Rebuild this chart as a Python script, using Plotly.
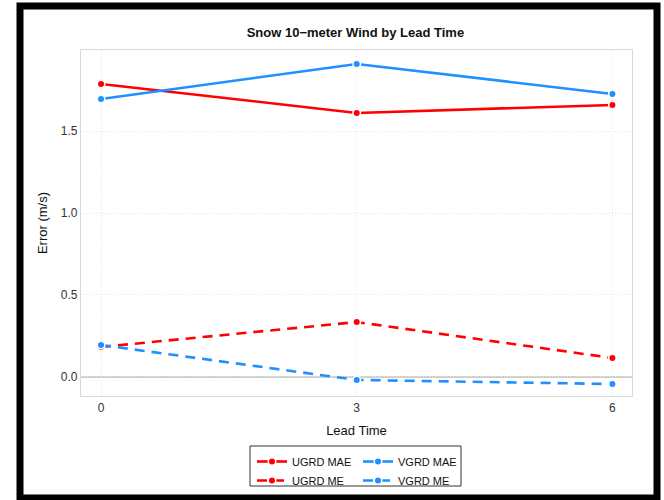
import plotly.graph_objects as go

lead_times = [0, 3, 6]
ugrd_mae = [1.787, 1.610, 1.659]
vgrd_mae = [1.695, 1.909, 1.726]
ugrd_me = [0.183, 0.335, 0.116]
vgrd_me = [0.195, -0.018, -0.043]

x_ticks = [0, 3, 6]
y_ticks = [0.0, 0.5, 1.0, 1.5]
y_tick_labels = ["0.0", "0.5", "1.0", "1.5"]

RED = "#FF0000"
BLUE = "#1E90FF"
DASH = "10px,7px"

fig = go.Figure()

def add(name, y, color, dash, legend):
    fig.add_trace(go.Scatter(
        x=lead_times, y=y, name=name, mode="lines+markers", legend=legend,
        line=dict(color=color, width=2.6, dash=dash),
        marker=dict(color=color, size=7.5, line=dict(color="white", width=1.5)),
    ))

add("UGRD MAE", ugrd_mae, RED, "solid", "legend")
add("UGRD ME", ugrd_me, RED, DASH, "legend")
add("VGRD MAE", vgrd_mae, BLUE, "solid", "legend2")
add("VGRD ME", vgrd_me, BLUE, DASH, "legend2")

fig.add_shape(type="line", xref="paper", yref="y", x0=0, x1=1, y0=0, y1=0,
              line=dict(color="#BDBDBD", width=1.6), layer="below")

# plot area: x 81..632 (551 px), y 50..396 (346 px) in a 664x500 figure
# outer black frame
fig.add_shape(type="rect", xref="paper", yref="paper",
              x0=(20 - 81) / 551, x1=(657 - 81) / 551,
              y0=(396 - 498) / 346, y1=(396 - 6) / 346,
              line=dict(color="black", width=7), fillcolor="rgba(0,0,0,0)")

# legend box
fig.add_shape(type="rect", xref="paper", yref="paper",
              x0=(250 - 81) / 551, x1=(461 - 81) / 551,
              y0=(396 - 446) / 346, y1=(396 - 486) / 346,
              line=dict(color="#333333", width=1), fillcolor="rgba(0,0,0,0)")

font_family = "Liberation Sans, Arial, sans-serif"
leg_common = dict(orientation="v", yanchor="top", xanchor="left",
                  bgcolor="rgba(0,0,0,0)", borderwidth=0,
                  font=dict(size=11, color="#111111"), itemwidth=30,
                  tracegroupgap=0)

W, H = 664, 500
fig.update_layout(
    width=W, height=H,
    margin=dict(l=81, r=32, t=50, b=104, autoexpand=False),
    paper_bgcolor="white", plot_bgcolor="white",
    font=dict(family=font_family, color="#222222"),
    title=dict(text="<b>Snow 10\u2212meter Wind by Lead Time</b>",
               x=0.498, xref="paper", xanchor="center",
               y=(H - 32) / H, yref="container", yanchor="middle",
               font=dict(size=13, color="#111111")),
    xaxis=dict(
        range=[-0.235, 6.23], tickvals=x_ticks, ticktext=[str(v) for v in x_ticks],
        showgrid=True, gridcolor="#E6E6E6", griddash="1px,2px", gridwidth=1,
        zeroline=False, showline=True, mirror=True, linecolor="#D9D9D9", linewidth=1.2,
        ticks="", tickfont=dict(size=12, color="#333333"),
        title=dict(text="Lead Time", font=dict(size=13, color="#111111"), standoff=12),
    ),
    yaxis=dict(
        range=[-0.116, 1.994], tickvals=y_ticks, ticktext=y_tick_labels,
        showgrid=True, gridcolor="#E6E6E6", griddash="1px,2px", gridwidth=1,
        zeroline=False, showline=True, mirror=True, linecolor="#D9D9D9", linewidth=1.2,
        ticks="", tickfont=dict(size=12, color="#333333"),
        title=dict(text="Error (m/s)", font=dict(size=13, color="#111111"), standoff=10),
    ),
    legend=dict(x=(252 - 81) / 551, y=(396 - 447) / 346, **leg_common),
    legend2=dict(x=(358 - 81) / 551, y=(396 - 447) / 346, **leg_common),
    showlegend=True,
)

fig.write_html("out.html", config={"displayModeBar": False},
               post_script="document.body.style.margin='0';document.body.style.overflow='hidden';")
